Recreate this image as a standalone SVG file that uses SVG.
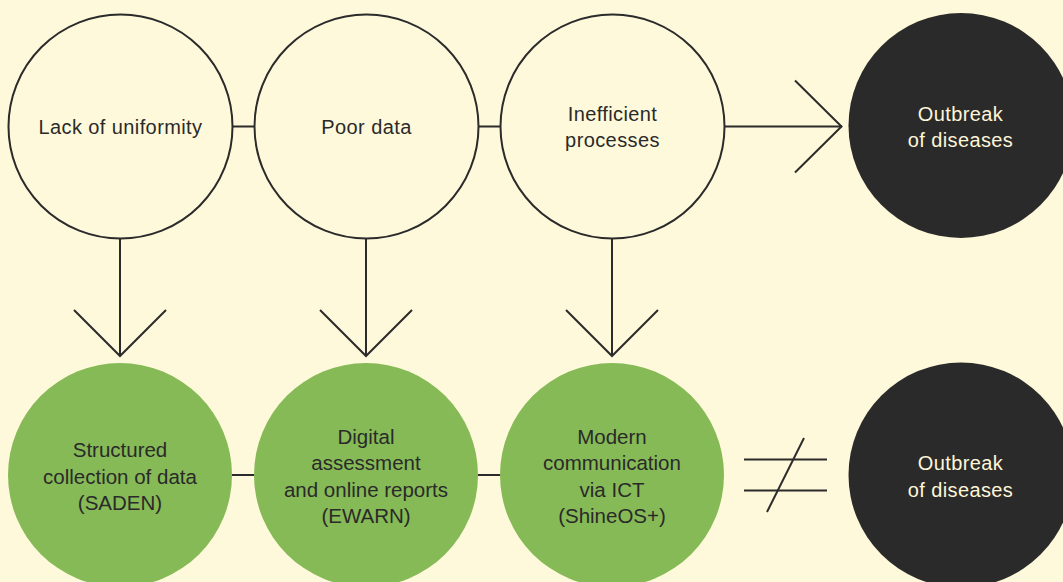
<svg xmlns="http://www.w3.org/2000/svg" width="1063" height="582" viewBox="0 0 1063 582">
<style>
.bg{fill:#FFF9DB}
.open{fill:#FFF9DB;stroke:#2b2b2b;stroke-width:2}
.green{fill:#86BA56}
.dark{fill:#2A2A2A}
.ln{stroke:#2b2b2b;stroke-width:2;fill:none}
text{font-family:"Liberation Sans",Arial,sans-serif;text-anchor:middle}
.t{font-size:20px;fill:#2a2a2a;letter-spacing:0.4px}
.w{font-size:20px;fill:#FFF5D8;letter-spacing:0.4px}
.g{font-size:20.5px;fill:#2a2a2a}
</style>
<rect class="bg" x="0" y="0" width="1063" height="582"/>
<g id="connectors">
<line class="ln" x1="232" y1="126.5" x2="255" y2="126.5"/>
<line class="ln" x1="478" y1="126.5" x2="501" y2="126.5"/>
<line class="ln" x1="724" y1="126.5" x2="842" y2="126.5"/>
<polyline class="ln" points="795,80.5 841.5,126.5 795,172.5"/>
<line class="ln" x1="120" y1="238" x2="120" y2="356"/>
<polyline class="ln" points="74,310 120,356 166,310"/>
<line class="ln" x1="366" y1="238" x2="366" y2="356"/>
<polyline class="ln" points="320,310 366,356 412,310"/>
<line class="ln" x1="612" y1="238" x2="612" y2="356"/>
<polyline class="ln" points="566,310 612,356 658,310"/>
<line class="ln" x1="232" y1="475" x2="255" y2="475"/>
<line class="ln" x1="478" y1="475" x2="501" y2="475"/>
<line class="ln" x1="744" y1="459.5" x2="827" y2="459.5"/>
<line class="ln" x1="744" y1="490.5" x2="827" y2="490.5"/>
<line class="ln" x1="804" y1="438" x2="767" y2="512"/>
</g>
<g id="lack">
<circle class="open" cx="120.5" cy="126.5" r="112"/>
<text class="t" x="120.5" y="133.5">Lack of uniformity</text>
</g>
<g id="poor">
<circle class="open" cx="366.5" cy="126.5" r="112"/>
<text class="t" x="366.5" y="133.5">Poor data</text>
</g>
<g id="inefficient">
<circle class="open" cx="612.5" cy="126.5" r="112"/>
<text class="t" x="612.5" y="120.5">Inefficient</text>
<text class="t" x="612.5" y="146.5">processes</text>
</g>
<g id="outbreak1">
<circle class="dark" cx="961" cy="125.5" r="112.5"/>
<text class="w" x="960.5" y="120.5">Outbreak</text>
<text class="w" x="960.5" y="146.5">of diseases</text>
</g>
<g id="saden">
<circle class="green" cx="120" cy="475" r="112"/>
<text class="g" x="120" y="456.5">Structured</text>
<text class="g" x="120" y="483.5">collection of data</text>
<text class="g" x="120" y="510">(SADEN)</text>
</g>
<g id="ewarn">
<circle class="green" cx="366" cy="475" r="112"/>
<text class="g" x="366" y="443.5">Digital</text>
<text class="g" x="366" y="470">assessment</text>
<text class="g" x="366" y="496.5">and online reports</text>
<text class="g" x="366" y="522.5">(EWARN)</text>
</g>
<g id="shineos">
<circle class="green" cx="612" cy="475" r="112"/>
<text class="g" x="612" y="443.5">Modern</text>
<text class="g" x="612" y="470">communication</text>
<text class="g" x="612" y="496.5">via ICT</text>
<text class="g" x="612" y="522.5">(ShineOS+)</text>
</g>
<g id="outbreak2">
<circle class="dark" cx="961" cy="475" r="112.5"/>
<text class="w" x="960.5" y="470">Outbreak</text>
<text class="w" x="960.5" y="496.5">of diseases</text>
</g>
</svg>
